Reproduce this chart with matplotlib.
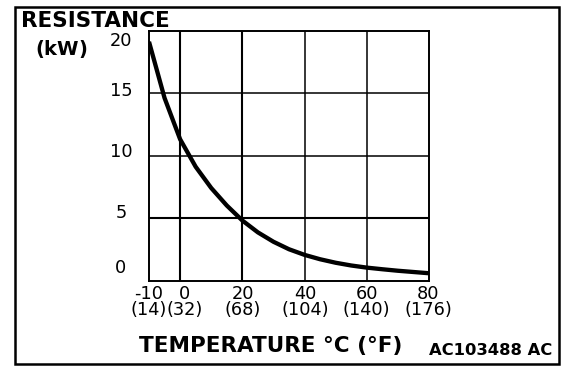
import matplotlib
matplotlib.use("Agg")
import matplotlib.pyplot as plt
from matplotlib.patches import Rectangle
from matplotlib.transforms import ScaledTranslation, blended_transform_factory

# thermistor resistance curve
temp_c = [-10, -5, 0, 5, 10, 15, 20, 25, 30, 35, 40, 45, 50, 55, 60, 65, 70, 75, 80]
resistance_kohm = [19.1, 14.6, 11.3, 9.1, 7.4, 6.0, 4.8, 3.85, 3.1, 2.5, 2.05, 1.7,
                   1.42, 1.2, 1.03, 0.9, 0.78, 0.68, 0.58]

xtick_c = [-10, 0, 20, 40, 60, 80]
xtick_f = ["(14)", "(32)", "(68)", "(104)", "(140)", "(176)"]
ytick_vals = [0, 5, 10, 15, 20]

# label nudges in points (layout only)
x_nudge = [-0.5, 3.0, 0.5, 0.5, 0.0, -0.5]
y_nudge = [5.4, 0, -1, -2.3, -11]

plt.rcParams['font.family'] = ['DejaVu Sans']

W, H = 576, 374
fig = plt.figure(figsize=(W / 100, H / 100), dpi=100)

def fx(px):
    return px / W

def fy(py):
    return 1 - py / H

ax = fig.add_axes([fx(149), fy(280.5), fx(429) - fx(149), fy(30.5) - fy(280.5)])
ax.set_xlim(-10, 80)
ax.set_ylim(0, 20)

# grid, a few lines drawn heavier like the original
for x in [0, 20, 40, 60]:
    ax.axvline(x, color='black', lw=1.5 if x in (0, 20) else 1.1, zorder=1)
for y in [5, 10, 15]:
    ax.axhline(y, color='black', lw=1.5 if y == 5 else 1.1, zorder=1)

ax.plot(temp_c, resistance_kohm, color='black', lw=3.1, solid_capstyle='butt',
        solid_joinstyle='round', zorder=3)

for s in ax.spines.values():
    s.set_linewidth(1.4)
ax.set_xticks([])
ax.set_yticks([])

# x tick labels: celsius over fahrenheit
bt = blended_transform_factory(ax.transData, ax.transAxes)
for i, (c, f) in enumerate(zip(xtick_c, xtick_f)):
    ax.text(c, 0, f"{c}\n{f}", fontsize=12.8, ha='center', va='top', multialignment='center',
            linespacing=0.8, clip_on=False,
            transform=bt + ScaledTranslation(x_nudge[i] / 72, -3.5 / 72, fig.dpi_scale_trans))

# y tick labels
bty = blended_transform_factory(fig.transFigure, ax.transData)
for i, v in enumerate(ytick_vals):
    ax.text(fx(121), v, str(v), fontsize=12.8, ha='center', va='baseline', clip_on=False,
            transform=bty + ScaledTranslation(0, y_nudge[i] / 72, fig.dpi_scale_trans))

fig.text(fx(21), fy(27), "RESISTANCE", fontsize=15.5, weight='bold', ha='left', va='baseline')
fig.text(fx(35), fy(55), r"(k$\mathregular{W}$)", fontsize=14, weight='bold', ha='left', va='baseline')
fig.text(fx(139), fy(352), "TEMPERATURE °C (°F)", fontsize=15.5, weight='bold', ha='left', va='baseline')
fig.text(fx(552), fy(355), "AC103488 AC", fontsize=11.8, weight='bold', ha='right', va='baseline')

fig.patches.append(Rectangle((fx(15), fy(364)), fx(559) - fx(15), fy(7) - fy(364),
                             transform=fig.transFigure, fill=False, lw=1.8, color='black'))

fig.savefig("out.png", dpi=100)
